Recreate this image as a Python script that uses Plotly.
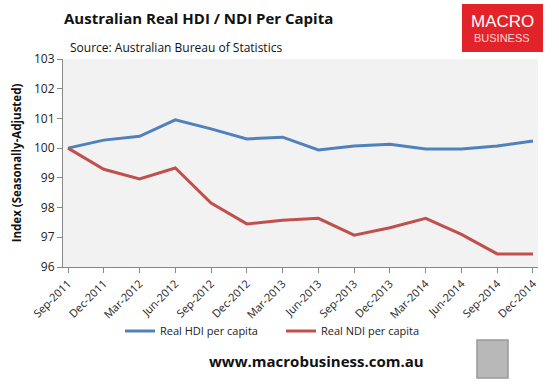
import plotly.graph_objects as go

quarters = ["Sep-2011", "Dec-2011", "Mar-2012", "Jun-2012", "Sep-2012", "Dec-2012", "Mar-2013",
            "Jun-2013", "Sep-2013", "Dec-2013", "Mar-2014", "Jun-2014", "Sep-2014", "Dec-2014"]
hdi = [100.0, 100.27, 100.40, 100.95, 100.65, 100.31, 100.37, 99.94, 100.07, 100.13, 99.97, 99.97, 100.07, 100.24]
ndi = [100.0, 99.29, 98.96, 99.33, 98.15, 97.45, 97.57, 97.64, 97.07, 97.32, 97.64, 97.10, 96.44, 96.44]
y_ticks = [96, 97, 98, 99, 100, 101, 102, 103]

FONT = "Open Sans"
x_idx = list(range(len(quarters)))

fig = go.Figure()
fig.add_trace(go.Scatter(x=x_idx, y=hdi, mode="lines", name="Real HDI per capita",
                         line=dict(color="#4f81bd", width=3)))
fig.add_trace(go.Scatter(x=x_idx, y=ndi, mode="lines", name="Real NDI per capita",
                         line=dict(color="#c0504d", width=3)))

fig.update_layout(
    width=559, height=387,
    margin=dict(l=63, r=21, t=59, b=120, autoexpand=False),
    paper_bgcolor="white", plot_bgcolor="#f2f2f2",
    font=dict(family=FONT, size=11, color="#222"),
    showlegend=True,
    legend=dict(orientation="h", x=(120 - 63) / 475, xanchor="left", y=-(331 - 267) / 208,
                yanchor="middle", bgcolor="rgba(0,0,0,0)",
                font=dict(size=11, color="#222"), itemwidth=30, tracegroupgap=0,
                entrywidth=116),
    xaxis=dict(range=[-0.14, 13.14], tickmode="array", tickvals=x_idx, ticktext=quarters,
               tickangle=-45, showgrid=False, zeroline=False, showline=True, linecolor="#888",
               linewidth=1, ticks="outside", tickcolor="#888", ticklen=5,
               tickfont=dict(size=11, color="#222")),
    yaxis=dict(range=[96, 103], tickvals=y_ticks, showgrid=False, zeroline=False,
               showline=True, linecolor="#888", linewidth=1, ticks="outside", tickcolor="#888",
               ticklen=5, tickfont=dict(size=12, color="#222"),
               title=dict(text="<b>Index (Seasonally-Adjusted)</b>", font=dict(size=11.5, color="#111"),
                          standoff=9)),
)

fig.add_annotation(text="<b>Australian Real HDI / NDI Per Capita</b>", xref="paper", yref="paper",
                   x=(62 - 63) / 475, y=1 + (59 - 18) / 208, xanchor="left", yanchor="middle",
                   showarrow=False, font=dict(size=15, color="#111", family=FONT))
fig.add_annotation(text="Source: Australian Bureau of Statistics", xref="paper", yref="paper",
                   x=(68 - 63) / 475, y=1 + (59 - 47) / 208, xanchor="left", yanchor="middle",
                   showarrow=False, font=dict(size=12, color="#111", family=FONT))

# logo
fig.add_shape(type="rect", xref="paper", yref="paper",
              x0=(462 - 63) / 475, x1=(543 - 63) / 475,
              y0=1 + (59 - 52) / 208, y1=1 + (59 - 4) / 208,
              fillcolor="#e3232a", line=dict(width=0), layer="above")
fig.add_annotation(text="MACRO", xref="paper", yref="paper", x=(502 - 63) / 475,
                   y=1 + (59 - 21) / 208, xanchor="center", yanchor="middle", showarrow=False,
                   font=dict(size=17, color="white", family="Liberation Sans"))
fig.add_annotation(text="BUSINESS", xref="paper", yref="paper", x=(502 - 63) / 475,
                   y=1 + (59 - 38) / 208, xanchor="center", yanchor="middle", showarrow=False,
                   font=dict(size=11, color="#ffd9d9", family="Liberation Sans"))

# footer
fig.add_annotation(text="<b>www.macrobusiness.com.au</b>", xref="paper", yref="paper",
                   x=(316 - 63) / 475, y=-(361 - 267) / 208, xanchor="center", yanchor="middle",
                   showarrow=False, font=dict(size=15, color="#111", family=FONT))
fig.add_shape(type="rect", xref="paper", yref="paper",
              x0=(477 - 63) / 475, x1=(508 - 63) / 475,
              y0=-(378 - 267) / 208, y1=-(340 - 267) / 208,
              fillcolor="#b8b8b8", line=dict(color="#999", width=1.5), layer="above")

fig.write_html("out.html", config={"displayModeBar": False},
               post_script="document.body.style.margin='0';")
